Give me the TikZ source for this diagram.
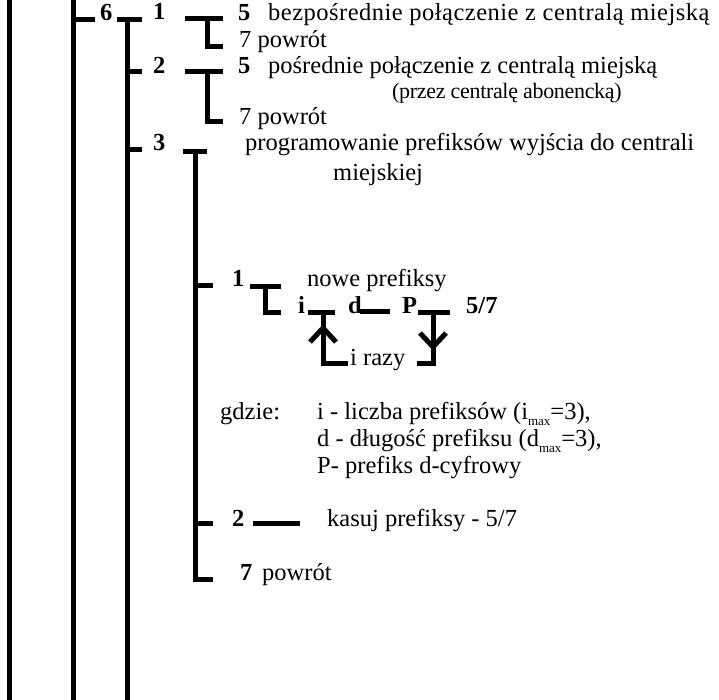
\documentclass[tikz,border=0pt]{standalone}
\usepackage{fontspec}
\setmainfont{Liberation Serif}
\begin{document}
\begin{tikzpicture}[x=1pt,y=-1pt,
  bar/.style={line width=5pt},
  txt/.style={anchor=mid west,inner sep=0pt,font=\fontsize{24.5}{29}\selectfont},
  key/.style={txt,font=\fontsize{24.5}{29}\selectfont\bfseries}]
\useasboundingbox (0,0) rectangle (719,700);

% outer spines running down the whole page
\draw[bar] (9,0) -- (9,700);
\draw[bar] (73,0) -- (73,700);
\draw[bar] (73,20) -- (95,20);
\node[key] (k6) at (100,18) {6};

% spine of menu 6 with its three branches
\draw[bar] (117,20) -- (142,20);
\draw[bar] (127,20) -- (127,700);
\draw[bar] (127,72) -- (142,72);
\draw[bar] (127,150) -- (142,150);
\node[key] (k61) at (153,17) {1};
\node[key] (k62) at (153,71) {2};
\node[key] (k63) at (153,148) {3};

% 6-1: direct line
\draw[bar] (185,19) -- (223,19);
\draw[bar] (207,19) |- (223,47);
\node[key] (k615) at (238,18) {5};
\node[txt] (t615) at (268,18) {\addfontfeature{LetterSpace=2}bezpośrednie połączenie z centralą miejską};
\node[txt] (t617) at (239,45) {7 powrót};

% 6-2: line through the PBX
\draw[bar] (185,72) -- (223,72);
\draw[bar] (207,72) |- (223,122);
\node[key] (k625) at (238,71) {5};
\node[txt] (t625) at (268,71) {pośrednie połączenie z centralą miejską};
\node[txt,font=\fontsize{22}{26}\selectfont] (t625b) at (392,96) {\addfontfeature{LetterSpace=-1.5}(przez centralę abonencką)};
\node[txt] (t627) at (239,122) {7 powrót};

% 6-3: prefixes
\draw[bar] (183,152) -- (207,152);
\draw[bar] (195,152) -- (195,579) -- (213,579);
\draw[bar] (195,285) -- (213,285);
\draw[bar] (195,523) -- (213,523);
\node[txt] (t63) at (245,148) {programowanie prefiksów wyjścia do centrali};
\node[txt] (t63b) at (333,178) {miejskiej};

% 6-3-1: new prefixes, loop i times
\node[key] (k631) at (232,284) {1};
\draw[bar] (250,286) -- (281,286);
\draw[bar] (265,286) |- (281,312);
\node[txt] (t631) at (307,284) {nowe prefiksy};
\node[key] (ki) at (298,311) {i};
\draw[bar] (308,312) -- (335,312);
\draw[bar] (323,312) |- (348,363);
\draw[bar,miter limit=4] (310,342) -- (323,328) -- (336,342);
\node[key] (kd) at (348,311) {d};
\draw[bar] (360,311) -- (390,311);
\node[key] (kp) at (402,311) {P};
\draw[bar] (418,312) -- (450,312);
\draw[bar] (433,312) |- (417,363);
\draw[bar,miter limit=4] (420,333) -- (433,347) -- (446,333);
\node[key] (k57) at (466,311) {5/7};
\node[txt] (traz) at (350,363) {i razy};

% legend
\node[txt] (tg) at (220,417) {gdzie:};
\node[txt] (tg1) at (317,417) {i - liczba prefiksów (i\raisebox{-0.55ex}{\fontsize{13}{13}\selectfont max}=3),};
\node[txt] (tg2) at (317,444) {d - długość prefiksu (d\raisebox{-0.55ex}{\fontsize{13}{13}\selectfont max}=3),};
\node[txt] (tg3) at (317,471) {P- prefiks d-cyfrowy};

% 6-3-2 and 6-3-7
\node[key] (k632) at (232,524) {2};
\draw[bar] (253,523) -- (300,523);
\node[txt] (t632) at (327,524) {kasuj prefiksy - 5/7};
\node[key] (k637) at (240,578) {7};
\node[txt] (t637) at (262,578) {powrót};
\end{tikzpicture}
\end{document}
